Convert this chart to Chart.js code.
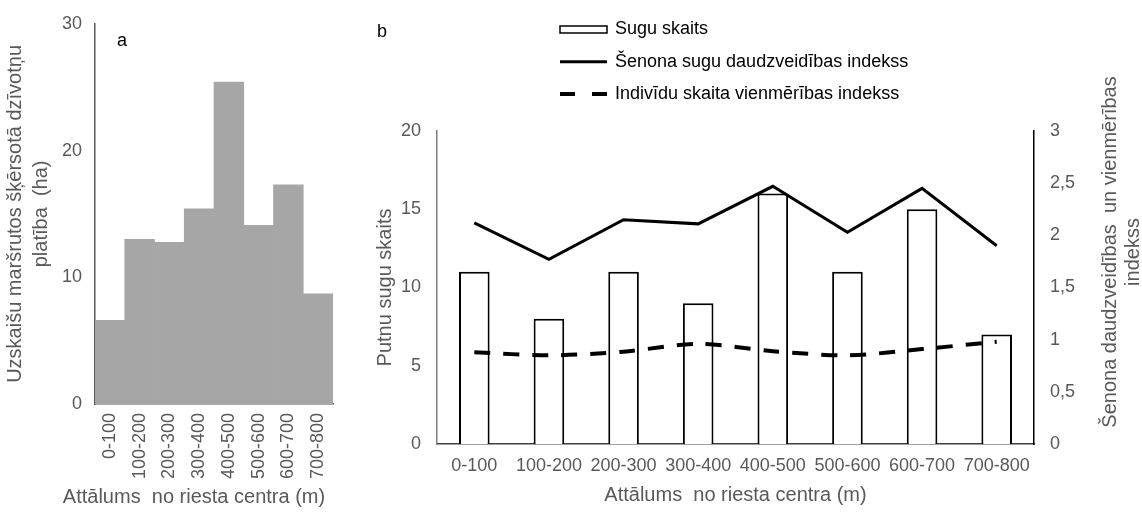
<!DOCTYPE html>
<html>
<head>
<meta charset="utf-8">
<script src="https://cdn.jsdelivr.net/npm/chart.js@4.4.1/dist/chart.umd.min.js"></script>
<style>
    html, body { margin: 0; padding: 0; background: #fff; }
    #wrap { position: relative; width: 1142px; height: 512px; }
    #boxA { position: absolute; left: 0; top: 0; width: 360px; height: 512px; }
    #boxB { position: absolute; left: 360px; top: 0; width: 782px; height: 512px; }
</style>
</head>
<body>
<div id="wrap">
    <div id="boxA"><canvas id="chartA"></canvas></div>
    <div id="boxB"><canvas id="chartB"></canvas></div>
</div>
<script>
// Data
const distanceLabels = ['0-100', '100-200', '200-300', '300-400', '400-500', '500-600', '600-700', '700-800'];
const habitatArea = [6.6, 13.0, 12.75, 15.4, 25.4, 14.1, 17.3, 8.7];
const speciesCount = [11, 8, 11, 9, 16, 11, 15, 7];
const shannonIndex = [2.12, 1.77, 2.15, 2.11, 2.47, 2.03, 2.45, 1.90];
const evennessIndex = [0.88, 0.85, 0.885, 0.96, 0.89, 0.85, 0.91, 0.98];
const seriesNames = ['Sugu skaits', 'Šenona sugu daudzveidības indekss', 'Indivīdu skaita vienmērības indekss'];

const FONT = '"Liberation Sans", Arial, sans-serif';
const TICK_COLOR = '#595959';

Chart.defaults.font.family = FONT;
Chart.defaults.animation = false;

// free text drawn on the canvas (panel letters, titles that Chart.js can't place)
const notesPlugin = {
    id: 'notes',
    afterDraw: function (chart, args, opts) {
        const ctx = chart.ctx;
        (opts.items || []).forEach(item => {
            ctx.save();
            ctx.font = `${item.size || 18}px ${FONT}`;
            ctx.fillStyle = item.color || '#000';
            ctx.textAlign = 'center';
            ctx.textBaseline = 'middle';
            ctx.translate(item.x, item.y);
            if (item.rotate) ctx.rotate(item.rotate);
            const lines = Array.isArray(item.text) ? item.text : [item.text];
            lines.forEach((line, i) => ctx.fillText(line, 0, i * (item.lineGap || 23)));
            ctx.restore();
        });
    }
};

// vertical legend at the top of panel b
const stackLegend = {
    id: 'stackLegend',
    afterDraw: function (chart, args, opts) {
        const ctx = chart.ctx;
        const x0 = opts.x, x1 = opts.x + 47;
        chart.data.datasets.forEach((ds, i) => {
            const y = opts.y + i * opts.gap;
            ctx.save();
            if (ds.type === 'bar') {
                ctx.fillStyle = '#fff';
                ctx.strokeStyle = '#000';
                ctx.lineWidth = 1.5;
                ctx.fillRect(x0, y - 3.5, x1 - x0, 7);
                ctx.strokeRect(x0, y - 3.5, x1 - x0, 7);
            } else {
                ctx.strokeStyle = '#000';
                ctx.lineWidth = ds.borderWidth;
                if (ds.borderDash) ctx.setLineDash([15, 17]);
                ctx.beginPath();
                ctx.moveTo(x0, y);
                ctx.lineTo(x1, y);
                ctx.stroke();
            }
            ctx.fillStyle = '#000';
            ctx.font = `18px ${FONT}`;
            ctx.textBaseline = 'middle';
            ctx.fillText(ds.label, x1 + 8, y);
            ctx.restore();
        });
    }
};

// Panel a: habitat area histogram
new Chart(document.getElementById('chartA'), {
    type: 'bar',
    data: {
        labels: distanceLabels,
        datasets: [{
            data: habitatArea,
            backgroundColor: '#a6a6a6',
            borderWidth: 0,
            categoryPercentage: 1,
            barPercentage: 1
        }]
    },
    options: {
        responsive: true,
        maintainAspectRatio: false,
        layout: { padding: { top: 22, right: 27, left: 0, bottom: 0 } },
        plugins: {
            legend: { display: false },
            tooltip: { enabled: false },
            notes: {
                items: [
                    { text: 'a', x: 122, y: 41, size: 18, color: '#000' },
                    { text: 'Attālums  no riesta centra (m)', x: 194, y: 497, size: 20, color: TICK_COLOR }
                ]
            }
        },
        scales: {
            x: {
                grid: { display: false, drawTicks: false },
                border: { display: true, color: '#595959', width: 1.5 },
                ticks: {
                    color: TICK_COLOR, font: { size: 18 }, padding: 9,
                    minRotation: 90, maxRotation: 90, autoSkip: false
                },
                afterFit: function (scale) { scale.height = 108; }
            },
            y: {
                min: 0, max: 30,
                grid: { display: false, drawTicks: false },
                border: { display: true, color: '#595959', width: 1.5 },
                ticks: { stepSize: 10, color: TICK_COLOR, font: { size: 18 }, padding: 13 },
                title: {
                    display: true,
                    text: ['Uzskaišu maršrutos šķērsotā dzīvotņu', 'platība  (ha)'],
                    color: TICK_COLOR,
                    font: { size: 20, lineHeight: 1.3 },
                    padding: { top: 2, bottom: 0 }
                },
                afterFit: function (scale) { scale.width = 95; }
            }
        }
    },
    plugins: [notesPlugin]
});

// Panel b: species count + diversity indices
new Chart(document.getElementById('chartB'), {
    data: {
        labels: distanceLabels,
        datasets: [
            {
                type: 'bar',
                label: seriesNames[0],
                data: speciesCount,
                yAxisID: 'y',
                backgroundColor: '#fff',
                borderColor: '#000',
                borderWidth: 2,
                categoryPercentage: 1,
                barPercentage: 0.41,
                order: 2
            },
            {
                type: 'line',
                label: seriesNames[1],
                data: shannonIndex,
                yAxisID: 'y2',
                borderColor: '#000',
                borderWidth: 3,
                pointRadius: 0,
                tension: 0,
                fill: false,
                order: 1
            },
            {
                type: 'line',
                label: seriesNames[2],
                data: evennessIndex,
                yAxisID: 'y2',
                borderColor: '#000',
                borderWidth: 4,
                borderDash: [16, 13],
                pointRadius: 0,
                tension: 0.3,
                fill: false,
                order: 1
            }
        ]
    },
    options: {
        responsive: true,
        maintainAspectRatio: false,
        layout: { padding: { top: 131, right: 0, left: 0, bottom: 0 } },
        plugins: {
            legend: { display: false },
            tooltip: { enabled: false },
            stackLegend: { x: 200, y: 29.5, gap: 32.3 },
            notes: {
                items: [
                    { text: 'b', x: 22, y: 32, size: 18, color: '#000' },
                    {
                        text: ['Šenona daudzveidības  un vienmērības', 'indekss'],
                        x: 750, y: 252, size: 20, color: TICK_COLOR,
                        rotate: -Math.PI / 2, lineGap: 23
                    }
                ]
            }
        },
        scales: {
            x: {
                grid: { display: false, drawTicks: false },
                border: { display: true, color: '#404040', width: 1.5 },
                ticks: { color: TICK_COLOR, font: { size: 18 }, padding: 11, maxRotation: 0, autoSkip: false },
                title: {
                    display: true,
                    text: 'Attālums  no riesta centra (m)',
                    color: TICK_COLOR,
                    font: { size: 20, lineHeight: 1.3 },
                    padding: { top: 0, bottom: 4 }
                },
                afterFit: function (scale) { scale.height = 68; }
            },
            y: {
                position: 'left',
                min: 0, max: 20,
                grid: { display: false, drawTicks: false },
                border: { display: true, color: '#7f7f7f', width: 1.5 },
                ticks: { stepSize: 5, color: TICK_COLOR, font: { size: 18 }, padding: 16 },
                title: {
                    display: true,
                    text: 'Putnu sugu skaits',
                    color: TICK_COLOR,
                    font: { size: 20, lineHeight: 1.3 },
                    padding: { top: 12, bottom: 0 }
                },
                afterFit: function (scale) { scale.width = 77; }
            },
            y2: {
                position: 'right',
                min: 0, max: 3,
                grid: { display: false, drawTicks: false },
                border: { display: true, color: '#000', width: 1.5 },
                ticks: {
                    stepSize: 0.5, color: TICK_COLOR, font: { size: 18 }, padding: 16,
                    callback: function (value) { return String(value).replace('.', ','); }
                },
                afterFit: function (scale) { scale.width = 108; }
            }
        }
    },
    plugins: [notesPlugin, stackLegend]
});
</script>
</body>
</html>
